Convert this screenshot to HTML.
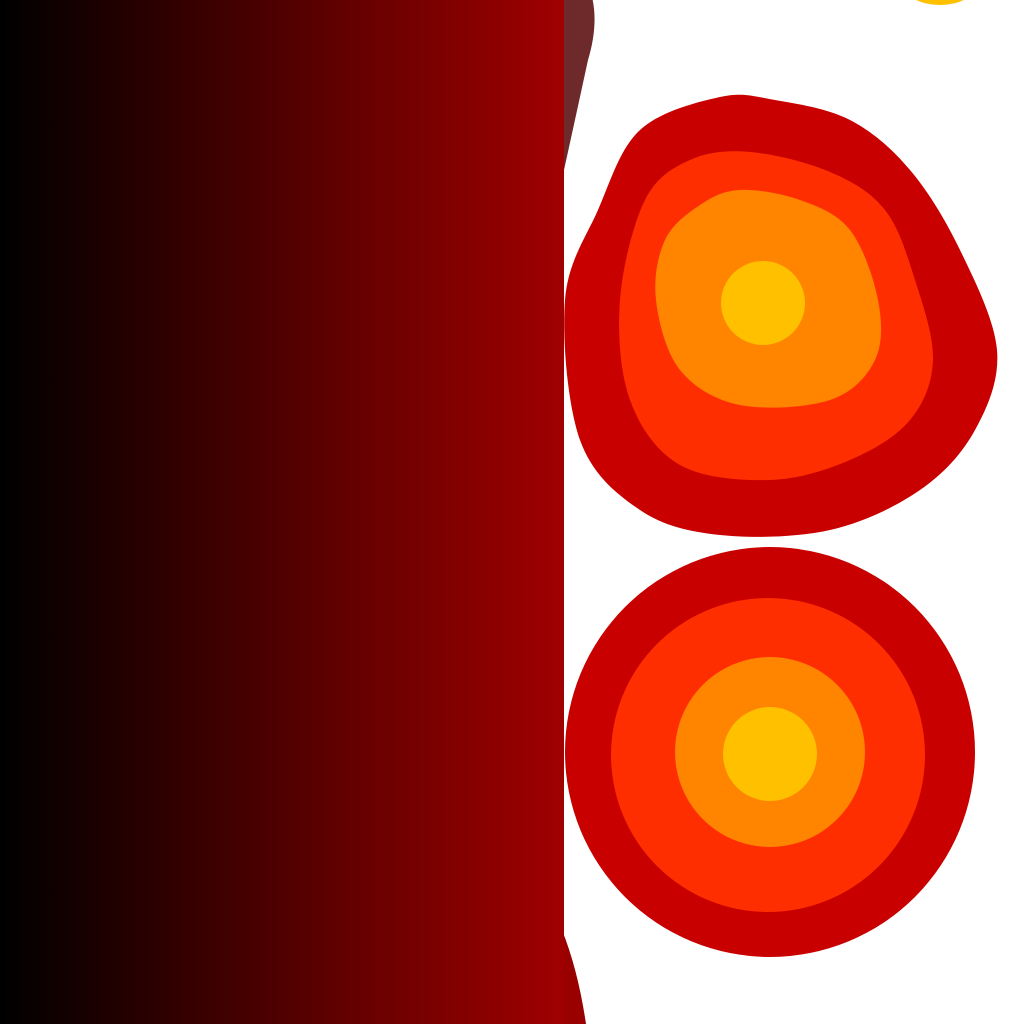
<!DOCTYPE html>
<html><head><meta charset="utf-8"><style>html,body{margin:0;padding:0;background:#fff}svg{display:block}</style></head>
<body>
<svg id="s" width="1024" height="1024" viewBox="0 0 1024 1024">
<defs><linearGradient id="g" x1="0" x2="1" y1="0" y2="0"><stop offset="0" stop-color="#000"/><stop offset="1" stop-color="#a00000"/></linearGradient></defs>
<path d="M500,-10 L590,-10 Q600,20 588,60 Q575,120 564,170 L500,170 Z" fill="#6e2a2a"/>
<path d="M500,930 L562,930 Q578,970 586,1024 L500,1024 Z" fill="#990000"/>
<rect x="0" y="0" width="564" height="1024" fill="url(#g)"/>
<ellipse cx="940" cy="-15" rx="36" ry="20" fill="#ffc000"/>
<g id="blob"></g>
<g>
<circle cx="770" cy="752" r="205" fill="#c80000"/>
<circle cx="768" cy="755" r="157" fill="#ff2e00"/>
<circle cx="770" cy="752" r="95" fill="#ff8400"/>
<circle cx="770" cy="754" r="47" fill="#ffc000"/>
</g>
</svg>
<script>
const outerPts=[[720,97],[775,100],[850,120],[910,170],[960,250],[997,350],[975,430],[920,490],[830,530],[720,535],[640,510],[580,440],[565,300],[598,210],[640,130]];
const midPts=[[750,152],[830,172],[885,210],[915,280],[933,360],[910,420],[850,460],[770,480],[680,465],[630,400],[620,300],[645,200],[690,160]];
const innerPts=[[740,190],[800,200],[850,230],[878,300],[875,360],[830,400],[740,405],[680,370],[656,300],[665,240],[700,205]];
function smooth(p){const n=p.length;let d=`M${p[0][0]},${p[0][1]}`;for(let i=0;i<n;i++){const a=p[(i-1+n)%n],b=p[i],c=p[(i+1)%n],e=p[(i+2)%n];d+=` C${b[0]+(c[0]-a[0])/6},${b[1]+(c[1]-a[1])/6} ${c[0]-(e[0]-b[0])/6},${c[1]-(e[1]-b[1])/6} ${c[0]},${c[1]}`;}return d+'Z';}
const g=document.getElementById('blob');const ns='http://www.w3.org/2000/svg';
[[outerPts,'#c80000','contour-outer'],[midPts,'#ff2e00','contour-middle'],[innerPts,'#ff8400','contour-inner']].forEach(([p,c,n])=>{const el=document.createElementNS(ns,'path');el.setAttribute('d',smooth(p));el.setAttribute('fill',c);


g.appendChild(el);});
const core=document.createElementNS(ns,'circle');core.setAttribute('cx',763);core.setAttribute('cy',303);core.setAttribute('r',42);core.setAttribute('fill','#ffc000');


g.appendChild(core);
</script>
</body></html>
